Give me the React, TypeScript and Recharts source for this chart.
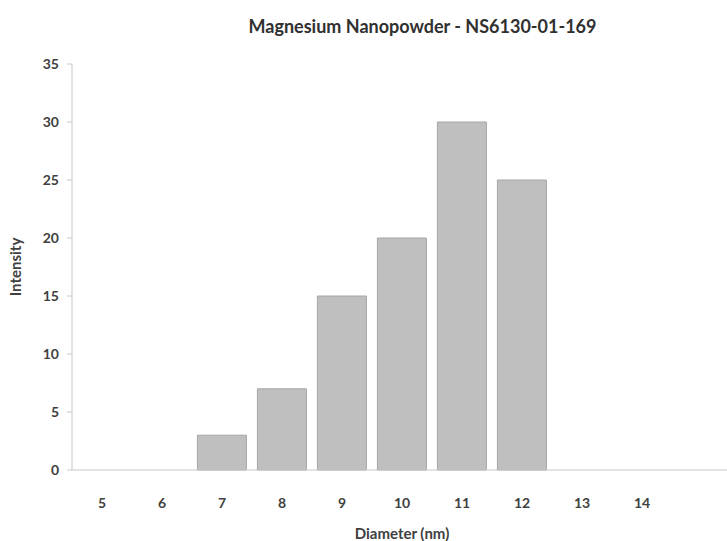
import { BarChart, Bar, XAxis, YAxis } from 'recharts';

const diameters = ['5', '6', '7', '8', '9', '10', '11', '12', '13', '14', ''];
const intensity = [0, 0, 3, 7, 15, 20, 30, 25, 0, 0, 0];
const yTicks = [0, 5, 10, 15, 20, 25, 30, 35];

const data = diameters.map((d, i) => ({ diameter: d, intensity: intensity[i] }));

const FONT = 'Lato, "Open Sans", sans-serif';
const textStyle = { fontFamily: FONT, fontSize: 14, fontWeight: 700, fill: '#404040' };

export default function App() {
  return (
    <div
      style={{
        position: 'absolute',
        left: 0,
        top: 0,
        width: 727,
        height: 541,
        overflow: 'hidden',
        background: '#fff',
      }}
    >
      <div
        style={{
          position: 'absolute',
          top: 15,
          left: 0,
          width: 845,
          textAlign: 'center',
          fontFamily: FONT,
          fontWeight: 700,
          fontSize: 18,
          color: '#303030',
        }}
      >
        Magnesium Nanopowder - NS6130-01-169
      </div>
      <BarChart
        width={732}
        height={541}
        data={data}
        margin={{ top: 64, right: 0, bottom: 0, left: 0 }}
        barCategoryGap="9%"
      >
        <XAxis
          dataKey="diameter"
          height={71}
          tickLine={false}
          axisLine={{ stroke: '#c8c8c8' }}
          tickMargin={22}
          tick={textStyle}
          interval={0}
          label={{ value: 'Diameter (nm)', position: 'insideBottom', offset: 2, style: { ...textStyle, fontSize: 15 } }}
        />
        <YAxis
          width={72}
          domain={[0, 35]}
          ticks={yTicks}
          interval={0}
          tickSize={5}
          tickMargin={8}
          axisLine={{ stroke: '#c8c8c8' }}
          tickLine={{ stroke: '#c8c8c8' }}
          tick={textStyle}
          label={{
            value: 'Intensity',
            angle: -90,
            position: 'insideLeft',
            offset: 16,
            style: { ...textStyle, fontSize: 15, textAnchor: 'middle' },
          }}
        />
        <Bar dataKey="intensity" fill="#bfbfbf" stroke="#a6a6a6" strokeWidth={1} isAnimationActive={false} />
      </BarChart>
    </div>
  );
}
